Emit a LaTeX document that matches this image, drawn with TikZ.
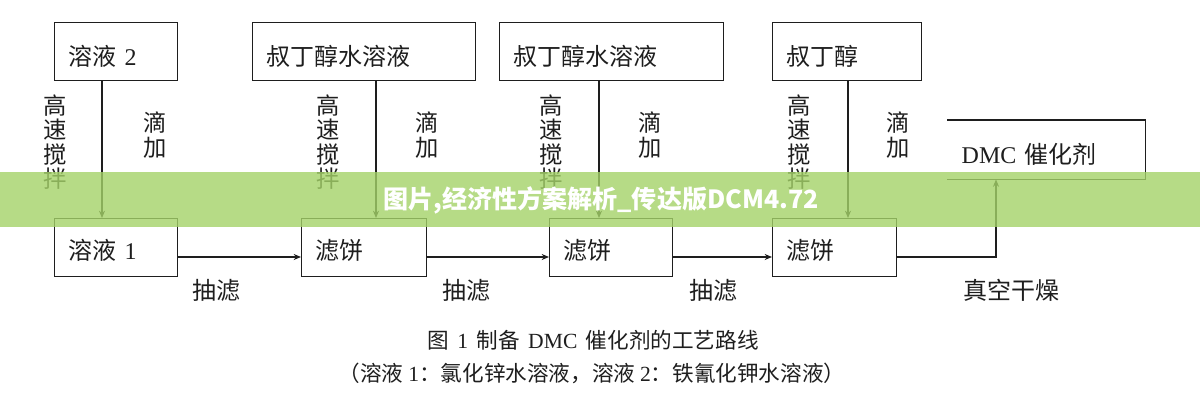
\documentclass[tikz,border=0pt]{standalone}
\usepackage{fontspec}
\setmainfont{Liberation Serif}
\newfontfamily\cjk{Noto Sans CJK SC}
\newfontfamily\lat{Liberation Serif}
\usetikzlibrary{arrows.meta}
\definecolor{ink}{HTML}{1E1E1E}
\definecolor{band}{HTML}{A4D268}
\begin{document}
\begin{tikzpicture}[x=0.75pt,y=-0.75pt,
  box/.style={draw=ink, line width=1.1pt, anchor=north west, inner xsep=10.5pt, inner ysep=0pt,
    minimum height=43.5pt, align=left, text=ink, font=\cjk\fontsize{18}{20}\selectfont,
    text height=24pt, text depth=3pt},
  lowbox/.style={box, text height=20.5pt},
  vlab/.style={align=center, inner sep=0pt, text=ink, font=\cjk\fontsize{17.5}{18.4}\selectfont},
  lab/.style={inner sep=0pt, text=ink, font=\cjk\fontsize{18}{20}\selectfont},
  captext/.style={inner sep=0pt, text=ink, font=\cjk\fontsize{16.2}{18}\selectfont},
  conn/.style={draw=ink, line width=1.1pt},
  arr/.style={conn, -{Stealth[length=5.5pt,width=4.5pt]}}]
\useasboundingbox (0,0) rectangle (1200,400);
\fill[white] (0,0) rectangle (1200,400);

% top boxes
\node[box, text width=71.25pt] (a) at (54,22) {溶液 {\lat 2}};
\node[box, text width=146.25pt] (b) at (252,22) {叔丁醇水溶液};
\node[box, text width=147pt] (c) at (499,22) {叔丁醇水溶液};
\node[box, text width=90.75pt] (d) at (772,22) {叔丁醇};

% bottom boxes
\node[lowbox, text width=71.25pt] (s1) at (54,218) {溶液 {\lat 1}};
\node[lowbox, text width=72.75pt] (f1) at (301,218) {滤饼};
\node[lowbox, text width=71.25pt] (f2) at (549,218) {滤饼};
\node[lowbox, text width=72pt] (f3) at (772,218) {滤饼};

% DMC box (open on the left)
\node[box, draw=none, text width=126.75pt] (dmc) at (947,120) {{\lat DMC} 催化剂};
\draw[conn] (dmc.north west) -- (dmc.north east) -- (dmc.south east) -- (dmc.south west);

% guide coordinates
\coordinate (v1) at (102,0);
\coordinate (v2) at (376,0);
\coordinate (v3) at (599,0);
\coordinate (v4) at (848,0);
\coordinate (v5) at (996,0);
\coordinate (h) at (0,257);

% vertical arrows
\draw[arr] (a.south -| v1) -- (s1.north -| v1);
\draw[arr] (b.south -| v2) -- (f1.north -| v2);
\draw[arr] (c.south -| v3) -- (f2.north -| v3);
\draw[arr] (d.south -| v4) -- (f3.north -| v4);

% horizontal arrows
\draw[arr] (s1.east |- h) -- (f1.west |- h);
\draw[arr] (f1.east |- h) -- (f2.west |- h);
\draw[arr] (f2.east |- h) -- (f3.west |- h);
\draw[arr] (f3.east |- h) -| (dmc.south -| v5);

% vertical labels
\node[vlab] (g1) at (55,142) {高\\速\\搅\\拌};
\node[vlab] (k1) at (155,135) {滴\\加};
\node[vlab] (g2) at (328,142) {高\\速\\搅\\拌};
\node[vlab] (k2) at (427,135) {滴\\加};
\node[vlab] (g3) at (551,142) {高\\速\\搅\\拌};
\node[vlab] (k3) at (650,135) {滴\\加};
\node[vlab] (g4) at (799,142) {高\\速\\搅\\拌};
\node[vlab] (k4) at (898,135) {滴\\加};

% process labels
\node[lab] (p1) at (216,290) {抽滤};
\node[lab] (p2) at (466,290) {抽滤};
\node[lab] (p3) at (713,290) {抽滤};
\node[lab] (p4) at (1011,290) {真空干燥};

% caption
\node[captext] (t1) at (593,340) {图\, {\lat 1}\, 制备\, {\lat DMC}\, 催化剂的工艺路线};
\node[captext] (t2) at (592,373) {（溶液 {\lat 1}：氯化锌水溶液，溶液 {\lat 2}：铁氰化钾水溶液）};

% overlay banner
\fill[band, fill opacity=0.8] (0,172) rectangle (1200,227);
\node[text=white, inner sep=0pt, font=\cjk\bfseries\fontsize{18.8}{22}\selectfont] (ban) at (601,200) {图片,经济性方案解析\_传达版DCM4.72};
\end{tikzpicture}
\end{document}
